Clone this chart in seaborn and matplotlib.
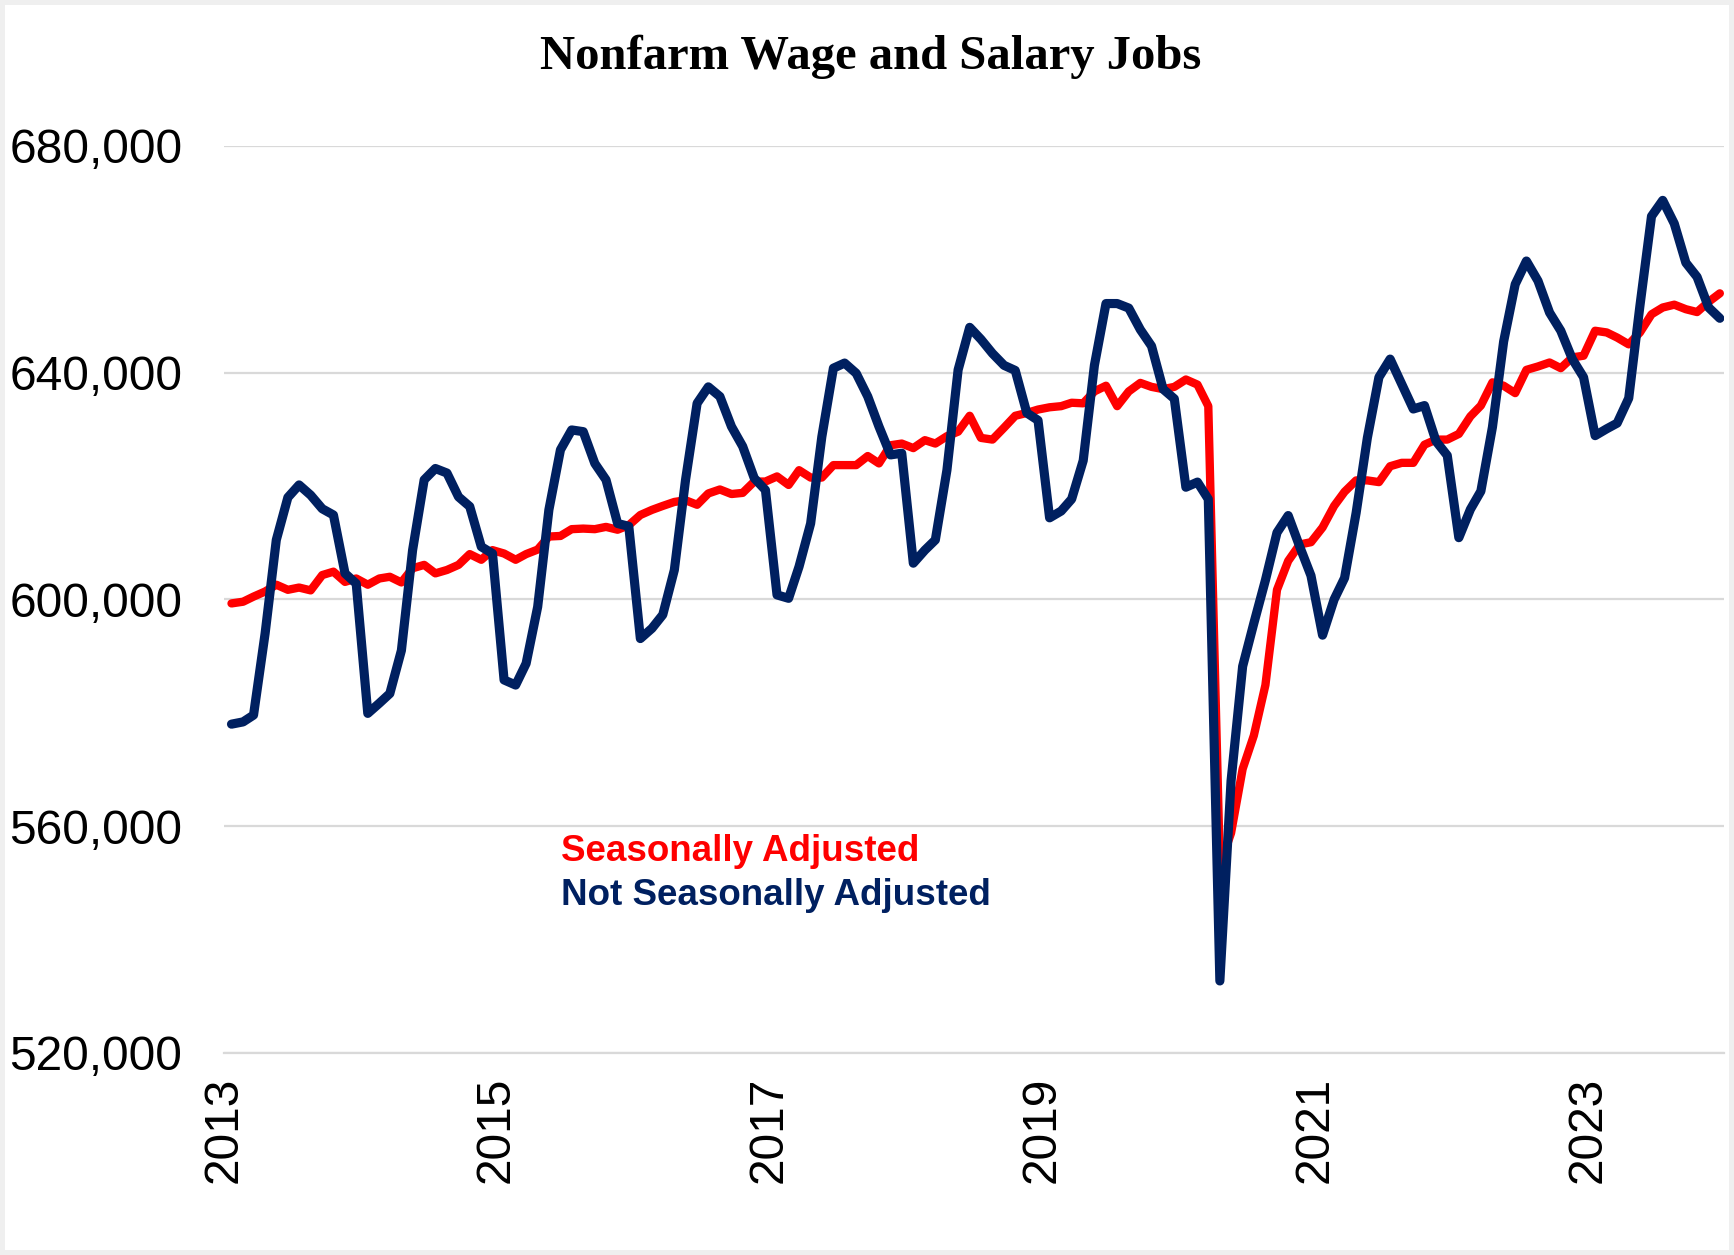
import pandas as pd
import matplotlib
matplotlib.use("Agg")
from matplotlib import pyplot as plt
import matplotlib.dates as mdates
from matplotlib.ticker import FuncFormatter
import seaborn as sns

# monthly values, Jan 2013 - Dec 2023
months = pd.date_range("2013-01-01", periods=132, freq="MS")

seasonally_adjusted = [
    599300, 599600, 600500, 601400, 602600, 601700, 602100, 601600, 604300, 604900, 603100, 603700,
    602600, 603700, 604000, 603000, 605500, 606100, 604600, 605200, 606100, 608000, 607000, 608700,
    608100, 607000, 608000, 608800, 611100, 611200, 612400, 612500, 612400, 612800, 612300, 613100,
    614900, 615800, 616500, 617200, 617500, 616700, 618700, 619400, 618600, 618800, 620800, 620800,
    621700, 620200, 622800, 621500, 621500, 623700, 623700, 623700, 625300, 624000, 627200, 627500,
    626700, 628100, 627500, 628800, 629600, 632400, 628500, 628200, 630300, 632400, 632900, 633500,
    633900, 634100, 634700, 634600, 636700, 637700, 634100, 636700, 638200, 637500, 637100, 637500,
    638800, 637900, 634100, 553000, 558800, 570100, 576000, 584900, 601700, 606800, 609700, 610100,
    612700, 616500, 619000, 621000, 621000, 620700, 623500, 624100, 624100, 627300, 628200, 628200,
    629200, 632300, 634200, 638300, 637700, 636400, 640500, 641100, 641800, 640800, 642700, 643000,
    647400, 647100, 646200, 645000, 647100, 650300, 651500, 652000, 651200, 650700, 652500, 654000,
]

not_seasonally_adjusted = [
    578000, 578400, 579600, 594000, 610500, 618000, 620200, 618400, 616000, 614900, 604600, 602800,
    579900, 581700, 583400, 591000, 608700, 621100, 623100, 622300, 618100, 616400, 609300, 608100,
    585800, 584900, 588700, 598700, 615800, 626400, 629900, 629600, 624000, 621100, 613400, 612900,
    593100, 594900, 597300, 605200, 621100, 634600, 637500, 635800, 630500, 627000, 621400, 619300,
    600800, 600200, 605800, 613400, 628700, 640800, 641700, 639900, 635800, 630500, 625500, 625800,
    606400, 608700, 610500, 622800, 640500, 648000, 645900, 643400, 641300, 640400, 632900, 631600,
    614400, 615600, 617700, 624500, 641300, 652200, 652200, 651400, 647600, 644700, 637100, 635400,
    619800, 620700, 617700, 532700, 568000, 588200, 595800, 603400, 611800, 614800, 609300, 604200,
    593700, 600000, 603800, 615300, 628500, 639200, 642400, 638000, 633600, 634200, 627900, 625400,
    610900, 615900, 619100, 630400, 645500, 655600, 659700, 656200, 650600, 647400, 642400, 639200,
    628900, 630100, 631100, 635500, 651800, 667600, 670400, 666300, 659400, 656900, 651500, 649600,
]

x_tick_years = [2013, 2015, 2017, 2019, 2021, 2023]
y_ticks = [520000, 560000, 600000, 640000, 680000]

RED = "#FF0000"
NAVY = "#002060"
GRID = "#d9d9d9"


def plot_jobs():
    df = pd.DataFrame({
        "date": months + pd.Timedelta(days=20),
        "sa": seasonally_adjusted,
        "nsa": not_seasonally_adjusted,
    })

    sns.set_style("white")
    plt.rcParams["font.family"] = ["Liberation Sans", "DejaVu Sans"]

    fig = plt.figure(figsize=(17.34, 12.55), dpi=100)
    fig.patch.set_edgecolor("#efefef")
    fig.patch.set_linewidth(6)
    ax = fig.add_axes([0.1292, 0.1610, 0.8650, 0.7227])

    sns.lineplot(data=df, x="date", y="sa", color=RED, linewidth=6.0, ax=ax,
                 solid_joinstyle="round", solid_capstyle="round", zorder=3)
    sns.lineplot(data=df, x="date", y="nsa", color=NAVY, linewidth=6.6, ax=ax,
                 solid_joinstyle="round", solid_capstyle="round", zorder=4)

    ax.set_ylim(520000, 680000)
    ax.set_yticks(y_ticks)
    ax.yaxis.set_major_formatter(FuncFormatter(lambda v, p: f"{v:,.0f}"))
    ax.set_xlim(pd.Timestamp("2013-01-01"), pd.Timestamp("2024-01-01"))
    ax.set_xticks([pd.Timestamp(f"{y}-01-01") for y in x_tick_years])
    ax.xaxis.set_major_formatter(mdates.DateFormatter("%Y"))

    ax.grid(axis="y", color=GRID, linewidth=1.6)
    ax.grid(axis="x", visible=False)
    for side in ["top", "right", "left"]:
        ax.spines[side].set_visible(False)
    ax.spines["bottom"].set_color(GRID)
    ax.spines["bottom"].set_linewidth(1.6)

    ax.tick_params(axis="y", length=0, pad=30, labelsize=34.5, labelcolor="black")
    ax.tick_params(axis="x", direction="out", length=10, width=1.2, color=GRID,
                   pad=7, labelsize=34.5, labelrotation=90, labelcolor="black")
    ax.set_xlabel("")
    ax.set_ylabel("")

    ax.text(0.2247, 0.2222, "Seasonally Adjusted", transform=ax.transAxes,
            color=RED, fontsize=26.5, fontweight="bold", va="center", ha="left")
    ax.text(0.2247, 0.1737, "Not Seasonally Adjusted", transform=ax.transAxes,
            color=NAVY, fontsize=26.5, fontweight="bold", va="center", ha="left")

    fig.text(0.502, 0.955, "Nonfarm Wage and Salary Jobs", ha="center", va="center",
             fontsize=35, fontweight="bold", color="black",
             family=["Liberation Serif", "DejaVu Serif"])

    plt.savefig("out.png", dpi=100)
    plt.close()


plot_jobs()
